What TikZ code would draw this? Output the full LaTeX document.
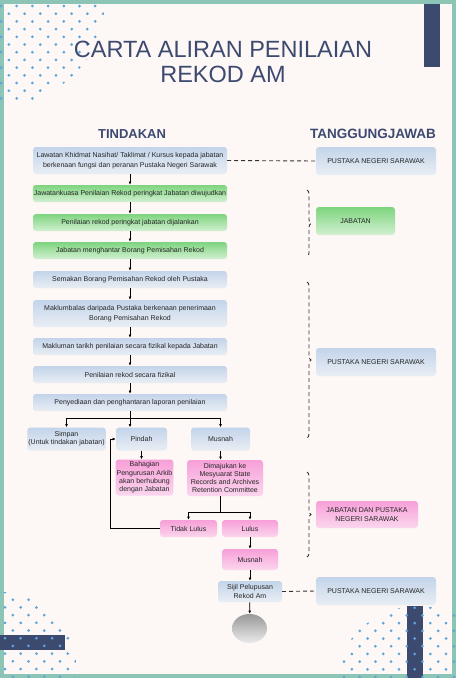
\documentclass[tikz,border=0pt]{standalone}
\usepackage{fontspec}
\setmainfont{Liberation Sans}
\usepackage{tikz}
\usetikzlibrary{arrows.meta,shapes.geometric,decorations.pathreplacing}
\definecolor{cartanavy}{HTML}{3D4A70}
\definecolor{cartateal}{HTML}{8CC4B6}
\definecolor{cartabg}{HTML}{FDF7F6}
\definecolor{cartadot}{HTML}{5DA5DA}
\definecolor{birutop}{HTML}{C3D4EA}
\definecolor{birubot}{HTML}{E9EEF4}
\definecolor{hijautop}{HTML}{7ED47E}
\definecolor{hijaubot}{HTML}{D2F0D2}
\definecolor{merahtop}{HTML}{F79FD8}
\definecolor{merahbot}{HTML}{FBD6EE}

\begin{document}
\begin{tikzpicture}[x=1pt,y=-1pt,
  font=\fontsize{7}{8.3}\selectfont,
  box/.style={rounded corners=3pt,align=center,inner sep=1pt,text=black!85},
  biru/.style={box,top color=birutop,bottom color=birubot},
  hijau/.style={box,top color=hijautop,bottom color=hijaubot},
  merah/.style={box,top color=merahtop,bottom color=merahbot},
  kiri/.style={minimum width=194pt,minimum height=17pt,font=\fontsize{7}{10}\selectfont},
  kanan/.style={minimum height=28pt},
  a/.style={-{Latex[length=3.2pt,width=2.8pt]},line width=0.7pt,black},
  putus/.style={line width=0.9pt,black!80,dash pattern=on 4pt off 3pt},
  kurung/.style={putus,decorate,decoration={brace,amplitude=4pt}}]
\useasboundingbox (0,0) rectangle (456,678);
\fill[cartabg] (0,0) rectangle (456,678);
\fill[cartanavy] (424,0) rectangle (440,67);
\draw[cartateal,line width=4pt] (2,2) rectangle (454,676);
% dots
\begin{scope}
  \clip (0,0) circle (105pt);
  \foreach \r in {0,...,13}
    \foreach \c in {0,...,7}
      \fill[cartadot] ({\c*15.7+mod(\r,2)*7.85+1},{\r*7.7+6}) circle (1.5pt);
\end{scope}
\fill[cartanavy] (0,635) rectangle (65,650);
\begin{scope}
  \clip (4,664) circle (72pt);
  \foreach \r in {0,...,11}
    \foreach \c in {0,...,5}
      \fill[cartadot] ({\c*15.7+mod(\r,2)*7.85+5},{\r*7.7+592}) circle (1.5pt);
\end{scope}
\fill[cartanavy] (407,606) rectangle (423,678);
\begin{scope}
  \clip (418,690) circle (84pt);
  \foreach \r in {0,...,10}
    \foreach \c in {0,...,7}
      \fill[cartadot] ({\c*15.7+mod(\r,2)*7.85+344},{\r*7.7+600}) circle (1.5pt);
\end{scope}
% title
\node[font=\fontsize{23.5}{25}\selectfont,text=cartanavy,align=center] (judul) at (223,62.1) {CARTA ALIRAN PENILAIAN\\REKOD AM};
\node[font=\bfseries\fontsize{13}{14}\selectfont,text=cartanavy,anchor=base] (tindakan) at (132,138.5) {TINDAKAN};
\node[font=\bfseries\fontsize{13.5}{14}\selectfont,text=cartanavy,anchor=base] (tanggung) at (373,138.5) {TANGGUNGJAWAB};
% tindakan
\node[biru,kiri,minimum height=27pt] (lawatan) at (130,160.5) {Lawatan Khidmat Nasihat/ Taklimat / Kursus kepada jabatan\\berkenaan fungsi dan peranan Pustaka Negeri Sarawak};
\node[hijau,kiri] (jawatan) at (130,193.5) {Jawatankuasa Penilaian Rekod peringkat Jabatan diwujudkan};
\node[hijau,kiri] (nilai) at (130,222.5) {Penilaian rekod peringkat jabatan dijalankan};
\node[hijau,kiri] (hantar) at (130,250.5) {Jabatan menghantar Borang Pemisahan Rekod};
\node[biru,kiri] (semak) at (130,279.5) {Semakan Borang Pemisahan Rekod oleh Pustaka};
\node[biru,kiri,minimum height=27pt] (balas) at (130,313.5) {Maklumbalas daripada Pustaka berkenaan penerimaan\\Borang Pemisahan Rekod};
\node[biru,kiri] (tarikh) at (130,346.5) {Makluman tarikh penilaian secara fizikal kepada Jabatan};
\node[biru,kiri] (fizikal) at (130,374.5) {Penilaian rekod secara fizikal};
\node[biru,kiri] (sedia) at (130,402.5) {Penyediaan dan penghantaran laporan penilaian};
\node[biru,minimum width=77pt,minimum height=23pt] (simpan) at (66.5,439) {Simpan\\(Untuk tindakan jabatan)};
\node[biru,minimum width=51pt,minimum height=23pt] (pindah) at (141.5,439) {Pindah};
\node[biru,minimum width=59pt,minimum height=23pt] (musnah) at (220.5,439) {Musnah};
\node[merah,minimum width=57pt,minimum height=36pt] (bahagian) at (144.5,477.5) {Bahagian\\Pengurusan Arkib\\akan berhubung\\dengan Jabatan};
\node[merah,minimum width=76pt,minimum height=36pt] (dimajukan) at (225,478) {Dimajukan ke\\Mesyuarat State\\Records and Archives\\Retention Committee};
\node[merah,minimum width=57pt,minimum height=17pt] (tidak) at (188.5,528.5) {Tidak Lulus};
\node[merah,minimum width=56pt,minimum height=17pt] (lulus) at (250,528.5) {Lulus};
\node[merah,minimum width=56pt,minimum height=21pt] (musnahb) at (250,559.5) {Musnah};
\node[biru,minimum width=64pt,minimum height=21pt] (sijil) at (250,591.5) {Sijil Pelupusan\\Rekod Am};
\node[ellipse,top color=black!40,bottom color=black!8,minimum width=35pt,minimum height=29pt,inner sep=0pt] (tamat) at (249.5,628.5) {};
% tanggungjawab
\node[biru,kanan,minimum width=120pt] (pns) at (376,161) {PUSTAKA NEGERI SARAWAK};
\node[hijau,kanan,minimum width=79pt] (jabatan) at (355.5,221) {JABATAN};
\node[biru,kanan,minimum width=120pt] (pnsb) at (376,362) {PUSTAKA NEGERI SARAWAK};
\node[merah,minimum height=27pt,minimum width=102pt] (bersama) at (367,514.5) {JABATAN DAN PUSTAKA\\NEGERI SARAWAK};
\node[biru,kanan,minimum width=120pt] (pnsc) at (376,591) {PUSTAKA NEGERI SARAWAK};
% connectors
\draw[a] (lawatan) -- (jawatan);
\draw[a] (jawatan) -- (nilai);
\draw[a] (nilai) -- (hantar);
\draw[a] (hantar) -- (semak);
\draw[a] (semak) -- (balas);
\draw[a] (balas) -- (tarikh);
\draw[a] (tarikh) -- (fizikal);
\draw[a] (fizikal) -- (sedia);
\draw[a] (sedia.south) -- ++(0,7) -| (simpan.north);
\draw[a] (sedia.south) ++(0,7) -| (musnah.north);
\draw[a] (sedia.south) -- (sedia.south |- pindah.north);
\draw[a] (pindah.south) -- (pindah.south |- bahagian.north);
\draw[a] (musnah.south) -- (musnah.south |- dimajukan.north);
\draw[a] (musnah.south |- dimajukan.south) -- ++(0,16) -| (tidak.north);
\draw[a] (musnah.south |- dimajukan.south) ++(0,16) -| (lulus.north);
\draw[a] (tidak.west) -- ++(-49,0) |- (pindah.west);
\draw[a] (lulus) -- (musnahb);
\draw[a] (musnahb) -- (sijil);
\draw[a] (sijil) -- (tamat);
\draw[putus] (lawatan.east) -- (pns.west);
\draw[putus] (sijil.east) -- (pnsc.west);
\draw[kurung] (307,190) -- (307,257);
\draw[kurung] (307,282) -- (307,438);
\draw[kurung] (307,472) -- (307,557);
\end{tikzpicture}
\end{document}
